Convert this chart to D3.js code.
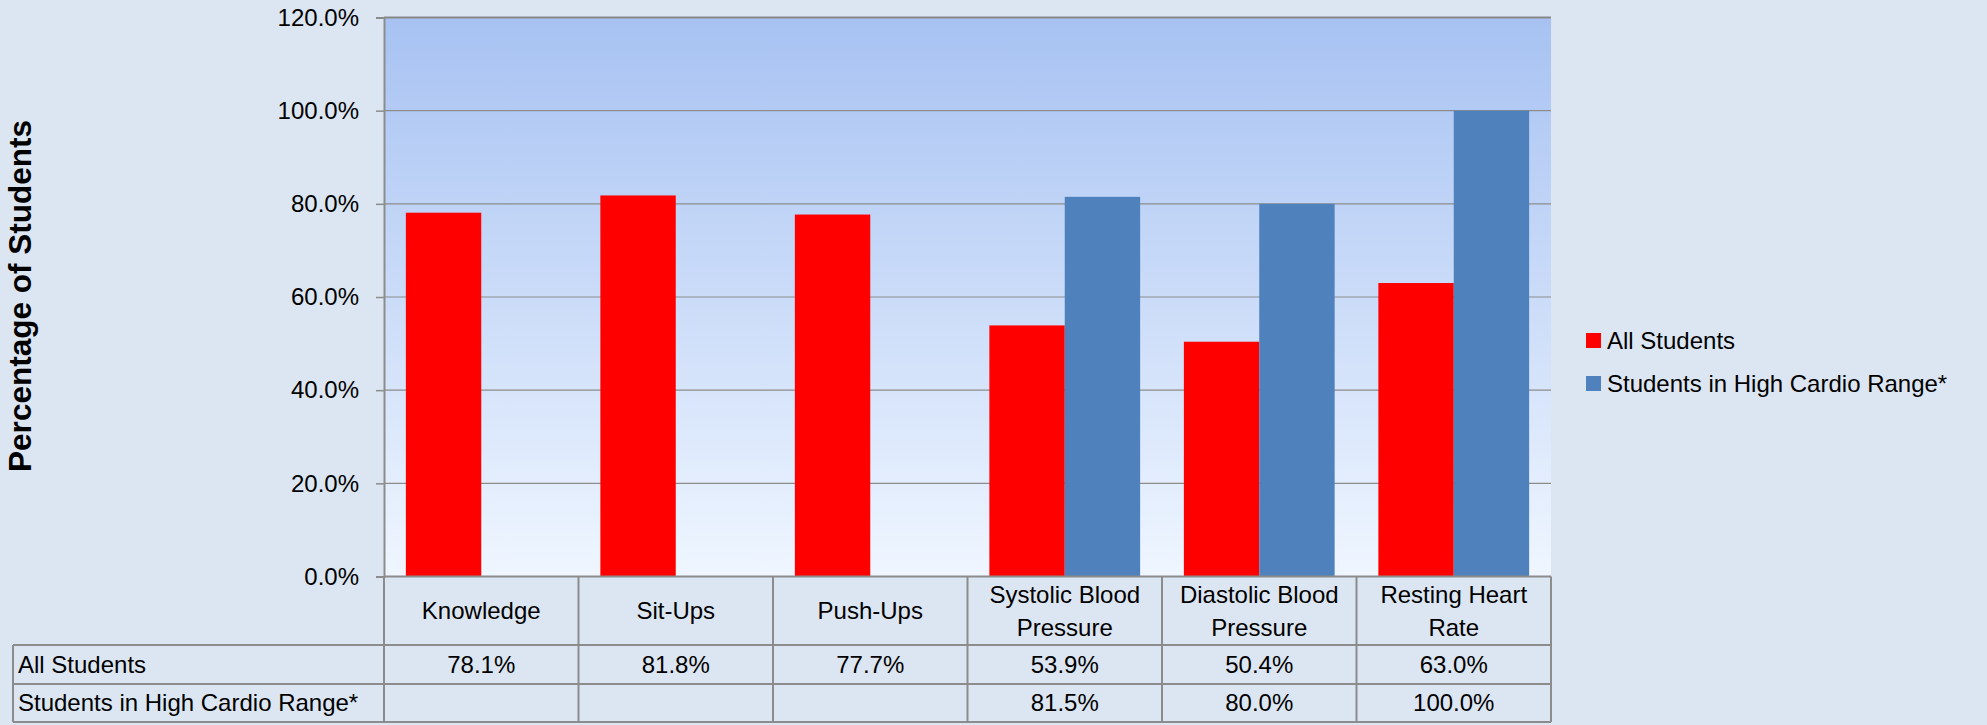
<!DOCTYPE html>
<html>
<head>
<meta charset="utf-8">
<script src="https://cdn.jsdelivr.net/npm/d3@7.9.0/dist/d3.min.js"></script>
<style>
  html, body { margin: 0; padding: 0; background: #dce6f2; }
  svg { display: block; font-family: "Liberation Sans", Arial, sans-serif; }
</style>
</head>
<body>
<svg id="chart" width="1987" height="725"></svg>
<script>
const categories = ['Knowledge', 'Sit-Ups', 'Push-Ups', 'Systolic Blood Pressure', 'Diastolic Blood Pressure', 'Resting Heart Rate'];
const categoryLines = [['Knowledge'], ['Sit-Ups'], ['Push-Ups'], ['Systolic Blood', 'Pressure'], ['Diastolic Blood', 'Pressure'], ['Resting Heart', 'Rate']];
const seriesNames = ['All Students', 'Students in High Cardio Range*'];
const allStudents = [78.1, 81.8, 77.7, 53.9, 50.4, 63.0];
const highCardio = [null, null, null, 81.5, 80.0, 100.0];
const seriesColors = ['#ff0000', '#4f81bd'];
const yTicks = [0, 20, 40, 60, 80, 100, 120];

const svg = d3.select('#chart');
const plotLeft = 384, plotRight = 1551, plotTop = 17.5, plotBottom = 576.5;
const rowY = [plotBottom, 645, 684, 722];
const tableLeft = 13;
const lineColor = '#8c8c8c';

const y = d3.scaleLinear().domain([0, 120]).range([plotBottom, plotTop]);
const x0 = d3.scaleBand().domain(categories).range([plotLeft, plotRight]);
const x1 = d3.scaleBand().domain(seriesNames).range([0, x0.bandwidth()])
  .paddingInner(0).paddingOuter(0.29);

// plot background gradient
const grad = svg.append('defs').append('linearGradient')
  .attr('id', 'plotbg').attr('x1', 0).attr('y1', 0).attr('x2', 0).attr('y2', 1);
grad.append('stop').attr('offset', '0%').attr('stop-color', '#a7c2f2');
grad.append('stop').attr('offset', '100%').attr('stop-color', '#eff6ff');

svg.append('rect')
  .attr('x', plotLeft).attr('y', plotTop)
  .attr('width', plotRight - plotLeft).attr('height', plotBottom - plotTop)
  .attr('fill', 'url(#plotbg)');

// gridlines
svg.append('g').selectAll('line')
  .data(yTicks)
  .join('line')
  .attr('x1', plotLeft).attr('x2', plotRight)
  .attr('y1', d => y(d)).attr('y2', d => y(d))
  .attr('stroke', d => d === 120 ? '#888' : lineColor)
  .attr('stroke-width', d => d === 120 ? 2 : 1.2);

// bars
const data = categories.map((c, i) => ({
  category: c,
  values: [
    { series: seriesNames[0], value: allStudents[i], color: seriesColors[0] },
    { series: seriesNames[1], value: highCardio[i], color: seriesColors[1] }
  ]
}));

svg.append('g').selectAll('g')
  .data(data)
  .join('g')
  .attr('transform', d => `translate(${x0(d.category)},0)`)
  .selectAll('rect')
  .data(d => d.values.filter(v => v.value !== null))
  .join('rect')
  .attr('x', d => x1(d.series))
  .attr('width', x1.bandwidth())
  .attr('y', d => y(d.value))
  .attr('height', d => y(0) - y(d.value))
  .attr('fill', d => d.color);

// y axis
const yAxis = svg.append('g')
  .attr('transform', `translate(${plotLeft},0)`)
  .call(d3.axisLeft(y).tickValues(yTicks).tickFormat(d => d.toFixed(1) + '%').tickSize(8).tickPadding(17));
yAxis.select('.domain').attr('stroke', lineColor).attr('stroke-width', 2);
yAxis.selectAll('.tick line').attr('stroke', lineColor).attr('stroke-width', 1.5);
yAxis.selectAll('.tick text').attr('font-size', 24).attr('fill', '#000')
  .attr('font-family', '"Liberation Sans", Arial, sans-serif');

svg.append('text')
  .attr('transform', 'translate(31,296) rotate(-90)')
  .attr('text-anchor', 'middle')
  .attr('font-size', 31.5)
  .attr('font-weight', 'bold')
  .text('Percentage of Students');

// data table
const table = svg.append('g');
const bounds = categories.map(c => x0(c)).concat([plotRight]);

table.append('line')
  .attr('x1', plotLeft).attr('x2', plotRight).attr('y1', rowY[0]).attr('y2', rowY[0])
  .attr('stroke', lineColor).attr('stroke-width', 2);
table.selectAll('.hrow')
  .data(rowY.slice(1))
  .join('line')
  .attr('x1', tableLeft).attr('x2', plotRight)
  .attr('y1', d => d).attr('y2', d => d)
  .attr('stroke', lineColor).attr('stroke-width', 2);

table.selectAll('.vcol')
  .data(bounds)
  .join('line')
  .attr('x1', d => d).attr('x2', d => d)
  .attr('y1', rowY[0]).attr('y2', rowY[3])
  .attr('stroke', lineColor).attr('stroke-width', 2);
table.append('line')
  .attr('x1', tableLeft).attr('x2', tableLeft)
  .attr('y1', rowY[1]).attr('y2', rowY[3])
  .attr('stroke', lineColor).attr('stroke-width', 2);

// category labels
const catText = table.selectAll('.cat')
  .data(categories)
  .join('text')
  .attr('text-anchor', 'middle')
  .attr('font-size', 24);
catText.each(function (d, i) {
  const lines = categoryLines[i];
  const mid = (rowY[0] + rowY[1]) / 2;
  lines.forEach((ln, j) => {
    d3.select(this).append('tspan')
      .attr('x', x0(d) + x0.bandwidth() / 2)
      .attr('y', mid + (j - (lines.length - 1) / 2) * 33)
      .attr('dy', '0.35em')
      .text(ln);
  });
});

// row labels and values
const rows = [allStudents, highCardio];
rows.forEach((vals, r) => {
  const cy = (rowY[r + 1] + rowY[r + 2]) / 2;
  table.append('text')
    .attr('x', tableLeft + 5).attr('y', cy).attr('dy', '0.35em')
    .attr('font-size', 24)
    .text(seriesNames[r]);
  table.selectAll('.val' + r)
    .data(vals.map((v, i) => ({ v, c: categories[i] })).filter(d => d.v !== null))
    .join('text')
    .attr('x', d => x0(d.c) + x0.bandwidth() / 2)
    .attr('y', cy).attr('dy', '0.35em')
    .attr('text-anchor', 'middle')
    .attr('font-size', 24)
    .text(d => d.v.toFixed(1) + '%');
});

// legend
const legend = svg.append('g').attr('transform', 'translate(1586,341)');
const li = legend.selectAll('g')
  .data(seriesNames)
  .join('g')
  .attr('transform', (d, i) => `translate(0,${i * 43})`);
li.append('rect')
  .attr('x', 0).attr('y', -8).attr('width', 15).attr('height', 15)
  .attr('fill', (d, i) => seriesColors[i]);
li.append('text')
  .attr('x', 21).attr('y', 0).attr('dy', '0.35em')
  .attr('font-size', 24)
  .text(d => d);
</script>
</body>
</html>
